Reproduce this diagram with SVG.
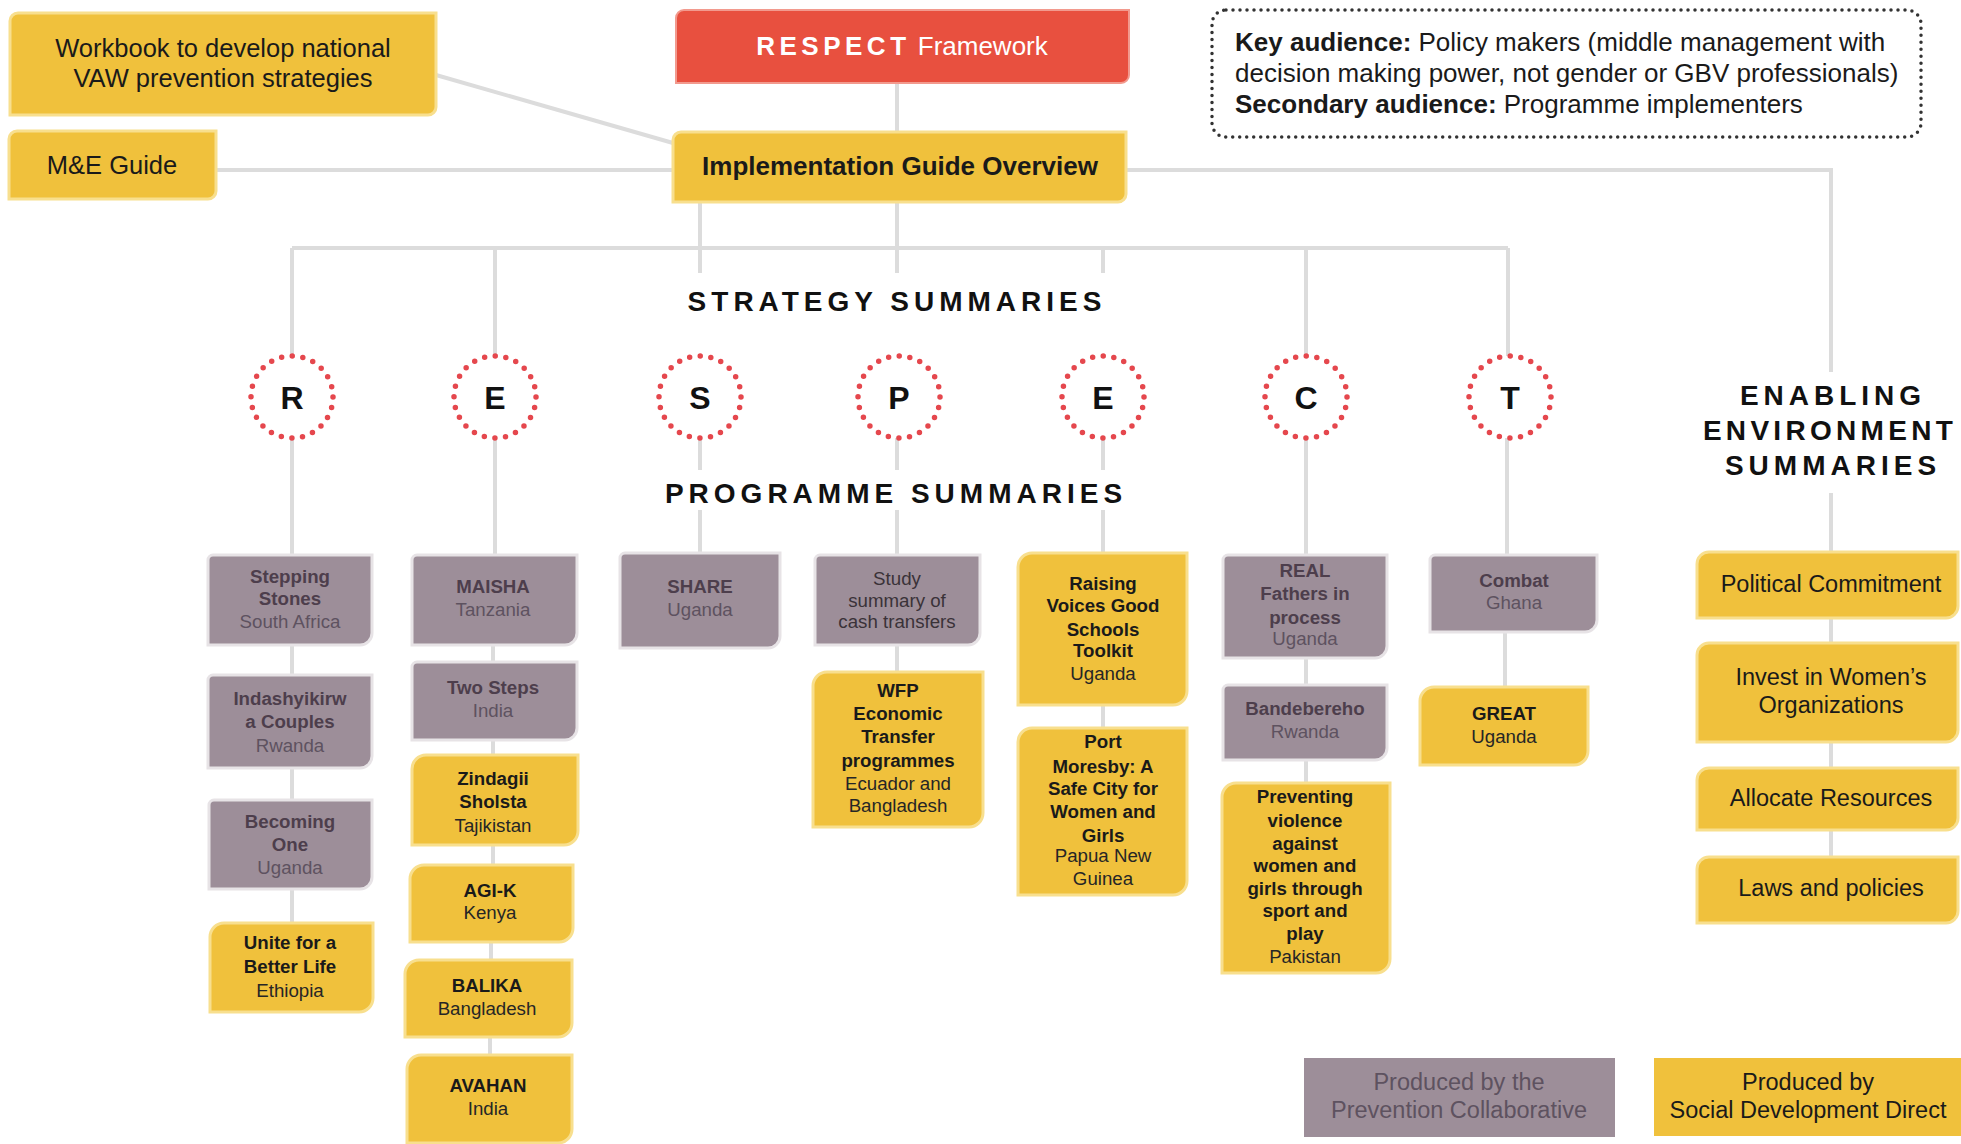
<svg xmlns="http://www.w3.org/2000/svg" width="1961" height="1144" viewBox="0 0 1961 1144">
<style>
text{font-family:"Liberation Sans",Arial,Helvetica,sans-serif}
.conn{stroke:#DCDCDC;stroke-width:4;fill:none}
.yb{fill:#F0C13C;stroke:#F8DF8E;stroke-width:3}
.pb{fill:#9D8E99;stroke:#E7E3E6;stroke-width:3}
.red{fill:#E8503F;stroke:#F29A8E;stroke-width:2}
.dot{fill:#fff;stroke:#E5474D;stroke-width:5.5;stroke-dasharray:0 10.73;stroke-linecap:round}
.big{font-size:25.5px;fill:#1a1a1a;text-anchor:middle}
.env{font-size:23.5px;fill:#1a1a1a;text-anchor:middle}
.hd{font-size:28px;font-weight:bold;letter-spacing:5px;fill:#111;text-anchor:middle}
.let{font-size:32px;font-weight:bold;fill:#111;text-anchor:middle}
.pt{font-size:18.7px;text-anchor:middle}
.pt .b{font-weight:bold}
.pp{fill:#4D3E4C}
.pp .r{fill:#5E5260}
.yy{fill:#1a1a1a}
.yy .r{fill:#262626}
.key{font-size:26px;fill:#1a1a1a}
</style>

<g id="connectors">
<path class="conn" d="M897,83 V132"/>
<path class="conn" d="M436,75 L673,143"/>
<path class="conn" d="M216,170 H673"/>
<path class="conn" d="M1126,170 H1831 V372"/>
<path class="conn" d="M700,202 V273 M897,202 V273"/>
<path class="conn" d="M292,248 H1508"/>
<path class="conn" d="M292,248 V356 M495,248 V356 M1103,248 V273 M1306,248 V356 M1508,248 V356"/>
<path class="conn" d="M292,438 V555 M495,438 V555 M700,438 V470 M700,510 V553 M897,438 V470 M897,510 V555 M1103,438 V470 M1103,510 V553 M1306,438 V555 M1507,438 V555"/>
<path class="conn" d="M292,645 V675 M292,768 V800 M292,889 V923"/>
<path class="conn" d="M493,645 V662 M493,740 V755 M493,845 V865 M491,942 V960 M490,1037 V1055"/>
<path class="conn" d="M897,645 V672 M1103,705 V728 M1306,658 V685 M1306,760 V783 M1505,632 V687"/>
<path class="conn" d="M1831,493 V552 M1831,618 V643 M1831,742 V768 M1831,830 V857"/>
</g>

<g id="workbook">
<path class="yb" d="M18,13 H436 V107 A8,8 0 0 1 428,115 H10 V21 A8,8 0 0 1 18,13 Z"/>
<text class="big" x="223" y="57">Workbook to develop national</text>
<text class="big" x="223" y="87">VAW prevention strategies</text>
</g>
<g id="me-guide">
<path class="yb" d="M17,131 H216 V191 A8,8 0 0 1 208,199 H9 V139 A8,8 0 0 1 17,131 Z"/>
<text class="big" x="112" y="174">M&amp;E Guide</text>
</g>
<g id="respect">
<path class="red" d="M684,10 H1129 V75 A8,8 0 0 1 1121,83 H676 V18 A8,8 0 0 1 684,10 Z"/>
<text x="902" y="55" style="font-size:26px;fill:#fff;text-anchor:middle"><tspan font-weight="bold" letter-spacing="4.5">RESPECT</tspan> Framework</text>
</g>
<g id="implementation">
<path class="yb" d="M681,132 H1126 V194 A8,8 0 0 1 1118,202 H673 V140 A8,8 0 0 1 681,132 Z"/>
<text class="big" x="900" y="175" style="font-size:26px;font-weight:bold">Implementation Guide Overview</text>
</g>
<g id="audience">
<rect x="1212" y="10" width="709" height="127" rx="14" fill="none" stroke="#333" stroke-width="3.5" stroke-dasharray="0 7" stroke-linecap="round"/>
<text class="key" x="1235" y="51"><tspan font-weight="bold">Key audience:</tspan> Policy makers (middle management with</text>
<text class="key" x="1235" y="82">decision making power, not gender or GBV professionals)</text>
<text class="key" x="1235" y="113"><tspan font-weight="bold">Secondary audience:</tspan> Programme implementers</text>
</g>

<g id="headings">
<text class="hd" x="897" y="311">STRATEGY SUMMARIES</text>
<text class="hd" x="896" y="503">PROGRAMME SUMMARIES</text>
<text class="hd" x="1833" y="405">ENABLING</text>
<text class="hd" x="1830" y="440" style="letter-spacing:4.3px">ENVIRONMENT</text>
<text class="hd" x="1833" y="475">SUMMARIES</text>
</g>

<g id="strategy-R"><circle class="dot" cx="292" cy="397" r="41"/><text class="let" x="292" y="409">R</text></g>
<g id="strategy-E1"><circle class="dot" cx="495" cy="397" r="41"/><text class="let" x="495" y="409">E</text></g>
<g id="strategy-S"><circle class="dot" cx="700" cy="397" r="41"/><text class="let" x="700" y="409">S</text></g>
<g id="strategy-P"><circle class="dot" cx="899" cy="397" r="41"/><text class="let" x="899" y="409">P</text></g>
<g id="strategy-E2"><circle class="dot" cx="1103" cy="397" r="41"/><text class="let" x="1103" y="409">E</text></g>
<g id="strategy-C"><circle class="dot" cx="1306" cy="397" r="41"/><text class="let" x="1306" y="409">C</text></g>
<g id="strategy-T"><circle class="dot" cx="1510" cy="397" r="41"/><text class="let" x="1510" y="409">T</text></g>

<g id="stepping-stones">
<path class="pb" d="M213,555 H372 V633 A12,12 0 0 1 360,645 H208 V560 A5,5 0 0 1 213,555 Z"/>
<text class="pt pp" x="290"><tspan class="b" x="290" y="583">Stepping</tspan><tspan class="b" x="290" y="605">Stones</tspan><tspan class="r" x="290" y="628">South Africa</tspan></text>
</g>
<g id="indashyikirwa">
<path class="pb" d="M213,675 H372 V756 A12,12 0 0 1 360,768 H208 V680 A5,5 0 0 1 213,675 Z"/>
<text class="pt pp"><tspan class="b" x="290" y="705">Indashyikirw</tspan><tspan class="b" x="290" y="728">a Couples</tspan><tspan class="r" x="290" y="752">Rwanda</tspan></text>
</g>
<g id="becoming-one">
<path class="pb" d="M214,800 H372 V877 A12,12 0 0 1 360,889 H209 V805 A5,5 0 0 1 214,800 Z"/>
<text class="pt pp"><tspan class="b" x="290" y="828">Becoming</tspan><tspan class="b" x="290" y="851">One</tspan><tspan class="r" x="290" y="874">Uganda</tspan></text>
</g>
<g id="unite">
<path class="yb" d="M224,923 H373 V998 A14,14 0 0 1 359,1012 H210 V937 A14,14 0 0 1 224,923 Z"/>
<text class="pt yy"><tspan class="b" x="290" y="949">Unite for a</tspan><tspan class="b" x="290" y="973">Better Life</tspan><tspan class="r" x="290" y="997">Ethiopia</tspan></text>
</g>

<g id="maisha">
<path class="pb" d="M417,555 H577 V633 A12,12 0 0 1 565,645 H412 V560 A5,5 0 0 1 417,555 Z"/>
<text class="pt pp"><tspan class="b" x="493" y="593">MAISHA</tspan><tspan class="r" x="493" y="616">Tanzania</tspan></text>
</g>
<g id="two-steps">
<path class="pb" d="M417,662 H577 V728 A12,12 0 0 1 565,740 H412 V667 A5,5 0 0 1 417,662 Z"/>
<text class="pt pp"><tspan class="b" x="493" y="694">Two Steps</tspan><tspan class="r" x="493" y="717">India</tspan></text>
</g>
<g id="zindagii">
<path class="yb" d="M426,755 H578 V831 A14,14 0 0 1 564,845 H412 V769 A14,14 0 0 1 426,755 Z"/>
<text class="pt yy"><tspan class="b" x="493" y="785">Zindagii</tspan><tspan class="b" x="493" y="808">Sholsta</tspan><tspan class="r" x="493" y="832">Tajikistan</tspan></text>
</g>
<g id="agi-k">
<path class="yb" d="M424,865 H573 V928 A14,14 0 0 1 559,942 H410 V879 A14,14 0 0 1 424,865 Z"/>
<text class="pt yy"><tspan class="b" x="490" y="897">AGI-K</tspan><tspan class="r" x="490" y="919">Kenya</tspan></text>
</g>
<g id="balika">
<path class="yb" d="M419,960 H572 V1023 A14,14 0 0 1 558,1037 H405 V974 A14,14 0 0 1 419,960 Z"/>
<text class="pt yy"><tspan class="b" x="487" y="992">BALIKA</tspan><tspan class="r" x="487" y="1015">Bangladesh</tspan></text>
</g>
<g id="avahan">
<path class="yb" d="M421,1055 H572 V1129 A14,14 0 0 1 558,1143 H407 V1069 A14,14 0 0 1 421,1055 Z"/>
<text class="pt yy"><tspan class="b" x="488" y="1092">AVAHAN</tspan><tspan class="r" x="488" y="1115">India</tspan></text>
</g>

<g id="share">
<path class="pb" d="M625,553 H780 V636 A12,12 0 0 1 768,648 H620 V558 A5,5 0 0 1 625,553 Z"/>
<text class="pt pp"><tspan class="b" x="700" y="593">SHARE</tspan><tspan class="r" x="700" y="616">Uganda</tspan></text>
</g>

<g id="study-summary">
<path class="pb" d="M820,555 H980 V633 A12,12 0 0 1 968,645 H815 V560 A5,5 0 0 1 820,555 Z"/>
<text class="pt" fill="#3A3238"><tspan x="897" y="585">Study</tspan><tspan x="897" y="607">summary of</tspan><tspan x="897" y="628">cash transfers</tspan></text>
</g>
<g id="wfp">
<path class="yb" d="M827,672 H983 V813 A14,14 0 0 1 969,827 H813 V686 A14,14 0 0 1 827,672 Z"/>
<text class="pt yy"><tspan class="b" x="898" y="697">WFP</tspan><tspan class="b" x="898" y="720">Economic</tspan><tspan class="b" x="898" y="743">Transfer</tspan><tspan class="b" x="898" y="767">programmes</tspan><tspan class="r" x="898" y="790">Ecuador and</tspan><tspan class="r" x="898" y="812">Bangladesh</tspan></text>
</g>

<g id="raising-voices">
<path class="yb" d="M1032,553 H1187 V691 A14,14 0 0 1 1173,705 H1018 V567 A14,14 0 0 1 1032,553 Z"/>
<text class="pt yy"><tspan class="b" x="1103" y="590">Raising</tspan><tspan class="b" x="1103" y="612">Voices Good</tspan><tspan class="b" x="1103" y="636">Schools</tspan><tspan class="b" x="1103" y="657">Toolkit</tspan><tspan class="r" x="1103" y="680">Uganda</tspan></text>
</g>
<g id="port-moresby">
<path class="yb" d="M1032,728 H1187 V881 A14,14 0 0 1 1173,895 H1018 V742 A14,14 0 0 1 1032,728 Z"/>
<text class="pt yy"><tspan class="b" x="1103" y="748">Port</tspan><tspan class="b" x="1103" y="773">Moresby: A</tspan><tspan class="b" x="1103" y="795">Safe City for</tspan><tspan class="b" x="1103" y="818">Women and</tspan><tspan class="b" x="1103" y="842">Girls</tspan><tspan class="r" x="1103" y="862">Papua New</tspan><tspan class="r" x="1103" y="885">Guinea</tspan></text>
</g>

<g id="real-fathers">
<path class="pb" d="M1228,555 H1387 V646 A12,12 0 0 1 1375,658 H1223 V560 A5,5 0 0 1 1228,555 Z"/>
<text class="pt pp"><tspan class="b" x="1305" y="577">REAL</tspan><tspan class="b" x="1305" y="600">Fathers in</tspan><tspan class="b" x="1305" y="624">process</tspan><tspan class="r" x="1305" y="645">Uganda</tspan></text>
</g>
<g id="bandebereho">
<path class="pb" d="M1228,685 H1387 V748 A12,12 0 0 1 1375,760 H1223 V690 A5,5 0 0 1 1228,685 Z"/>
<text class="pt pp"><tspan class="b" x="1305" y="715">Bandebereho</tspan><tspan class="r" x="1305" y="738">Rwanda</tspan></text>
</g>
<g id="preventing-violence">
<path class="yb" d="M1236,783 H1390 V959 A14,14 0 0 1 1376,973 H1222 V797 A14,14 0 0 1 1236,783 Z"/>
<text class="pt yy"><tspan class="b" x="1305" y="803">Preventing</tspan><tspan class="b" x="1305" y="827">violence</tspan><tspan class="b" x="1305" y="850">against</tspan><tspan class="b" x="1305" y="872">women and</tspan><tspan class="b" x="1305" y="895">girls through</tspan><tspan class="b" x="1305" y="917">sport and</tspan><tspan class="b" x="1305" y="940">play</tspan><tspan class="r" x="1305" y="963">Pakistan</tspan></text>
</g>

<g id="combat">
<path class="pb" d="M1435,555 H1597 V620 A12,12 0 0 1 1585,632 H1430 V560 A5,5 0 0 1 1435,555 Z"/>
<text class="pt pp"><tspan class="b" x="1514" y="587">Combat</tspan><tspan class="r" x="1514" y="609">Ghana</tspan></text>
</g>
<g id="great">
<path class="yb" d="M1434,687 H1588 V751 A14,14 0 0 1 1574,765 H1420 V701 A14,14 0 0 1 1434,687 Z"/>
<text class="pt yy"><tspan class="b" x="1504" y="720">GREAT</tspan><tspan class="r" x="1504" y="743">Uganda</tspan></text>
</g>

<g id="political-commitment">
<path class="yb" d="M1709,552 H1958 V606 A12,12 0 0 1 1946,618 H1697 V564 A12,12 0 0 1 1709,552 Z"/>
<text class="env" x="1831" y="592">Political Commitment</text>
</g>
<g id="invest-women">
<path class="yb" d="M1709,643 H1958 V730 A12,12 0 0 1 1946,742 H1697 V655 A12,12 0 0 1 1709,643 Z"/>
<text class="env" x="1831" y="685">Invest in Women’s</text>
<text class="env" x="1831" y="713">Organizations</text>
</g>
<g id="allocate-resources">
<path class="yb" d="M1709,768 H1958 V818 A12,12 0 0 1 1946,830 H1697 V780 A12,12 0 0 1 1709,768 Z"/>
<text class="env" x="1831" y="806">Allocate Resources</text>
</g>
<g id="laws-policies">
<path class="yb" d="M1709,857 H1958 V911 A12,12 0 0 1 1946,923 H1697 V869 A12,12 0 0 1 1709,857 Z"/>
<text class="env" x="1831" y="896">Laws and policies</text>
</g>

<g id="legend-prevention">
<rect x="1304" y="1058" width="311" height="79" fill="#9D8E99"/>
<text class="env" x="1459" y="1090" style="fill:#5E5260">Produced by the</text>
<text class="env" x="1459" y="1118" style="fill:#5E5260">Prevention Collaborative</text>
</g>
<g id="legend-sdd">
<rect x="1654" y="1058" width="307" height="78" fill="#F0C13C"/>
<text class="env" x="1808" y="1090">Produced by</text>
<text class="env" x="1808" y="1118">Social Development Direct</text>
</g>
</svg>
